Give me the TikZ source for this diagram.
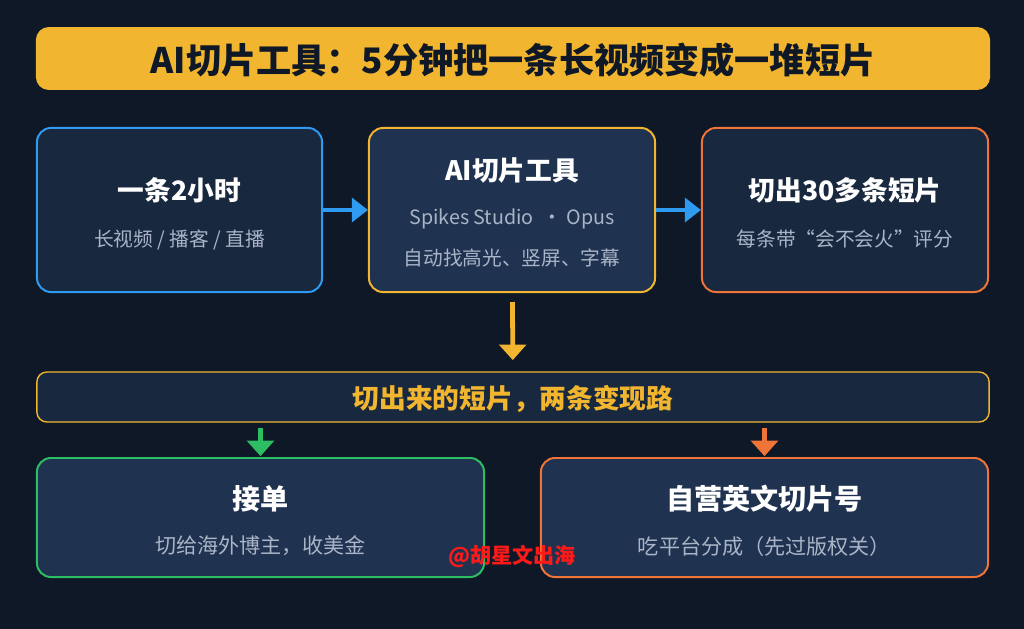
\documentclass[tikz,border=0pt]{standalone}
\usepackage{fontspec}
\setmainfont{Noto Sans CJK SC}
\usetikzlibrary{positioning,arrows.meta}
\definecolor{BgNavy}{HTML}{0E1827}
\definecolor{CardDark}{HTML}{18283F}
\definecolor{CardMid}{HTML}{1F3250}
\definecolor{FlowBlue}{HTML}{2E9BF0}
\definecolor{FlowGold}{HTML}{F2B52F}
\definecolor{FlowOrange}{HTML}{F07438}
\definecolor{FlowGreen}{HTML}{2DBE63}
\definecolor{SubGray}{HTML}{A9B4C6}
\definecolor{MarkRed}{HTML}{FF1A1A}

\begin{document}
\begin{tikzpicture}[x=0.025cm,y=-0.025cm,
  card/.style={draw,line width=1.4pt,rounded corners=0.35cm,inner sep=0pt},
  head/.style={text=white,font=\bfseries\fontsize{19}{22}\selectfont},
  sub/.style={text=SubGray,font=\fontsize{14}{17}\selectfont},
  flowarrow/.style={line width=3.4pt,-{Triangle[length=11.5pt,width=17pt]}},
  droparrow/.style={line width=3.4pt,-{Triangle[length=11pt,width=19pt]}}]
\fill[BgNavy] (0,0) rectangle (1024,629);
\useasboundingbox (0,0) rectangle (1024,629);
% title bar
\node[card,draw=FlowGold,fill=FlowGold,rounded corners=0.3cm,minimum width=23.8cm,minimum height=1.525cm] (title) at (513,58.5) {};
\node[font=\bfseries\fontsize{25}{28}\selectfont,text=BgNavy] (titletxt) at (513,60) {AI切片工具：5分钟把一条长视频变成一堆短片};
% top row
\node[card,draw=FlowBlue,fill=CardDark,minimum width=7.125cm,minimum height=4.1cm] (src) at (179.5,210) {};
\node[card,draw=FlowGold,fill=CardMid,minimum width=7.15cm,minimum height=4.1cm] (tool) at (512,210) {};
\node[card,draw=FlowOrange,fill=CardDark,minimum width=7.15cm,minimum height=4.1cm] (clips) at (845,210) {};
\node[head] (srchead) at (179.5,190) {一条2小时};
\node[sub] (srcsub) at (179.5,240) {长视频 / 播客 / 直播};
\node[head] (toolhead) at (512,170) {AI切片工具};
\node[sub] (toolname) at (512,219) {Spikes Studio \ ・ Opus};
\node[sub] (toolsub) at (512,258) {自动找高光、竖屏、字幕};
\node[head] (clipshead) at (845,190) {切出30多条短片};
\node[sub] (clipssub) at (845,239) {每条带“会不会火”评分};
\draw[flowarrow,FlowBlue] (src) -- (tool);
\draw[flowarrow,FlowBlue] (tool) -- (clips);
% banner
\node[card,draw=FlowGold,fill=CardDark,line width=1pt,rounded corners=0.25cm,minimum width=23.8cm,minimum height=1.25cm] (band) at (513,397) {};
\node[font=\bfseries\fontsize{19}{22}\selectfont,text=FlowGold] (bandtxt) at (513,399) {切出来的短片，两条变现路};
\draw[droparrow,FlowGold,shorten <=6.4pt,shorten >=8pt] (tool) -- (band);
% bottom row
\node[card,draw=FlowGreen,fill=CardMid,minimum width=11.175cm,minimum height=2.975cm] (gig) at (260.5,517.5) {};
\node[card,draw=FlowOrange,fill=CardMid,minimum width=11.175cm,minimum height=2.975cm] (own) at (764.5,517.5) {};
\node[head,font=\bfseries\fontsize{20}{23}\selectfont] (gighead) at (260.5,499) {接单};
\node[sub,font=\fontsize{15}{18}\selectfont] (gigsub) at (260.5,546) {切给海外博主，收美金};
\node[head,font=\bfseries\fontsize{20}{23}\selectfont] (ownhead) at (764.5,499) {自营英文切片号};
\node[sub,font=\fontsize{15}{18}\selectfont] (ownsub) at (764.5,546) {吃平台分成（先过版权关）};
\draw[droparrow,FlowGreen,shorten <=3.5pt,shorten >=0.6pt] (gig.north |- band.south) -- (gig.north);
\draw[droparrow,FlowOrange,shorten <=3.5pt,shorten >=0.6pt] (own.north |- band.south) -- (own.north);
% watermark
\node[font=\bfseries\fontsize{15}{18}\selectfont,text=MarkRed] (mark) at (512,556) {@胡星文出海};
\end{tikzpicture}
\end{document}
